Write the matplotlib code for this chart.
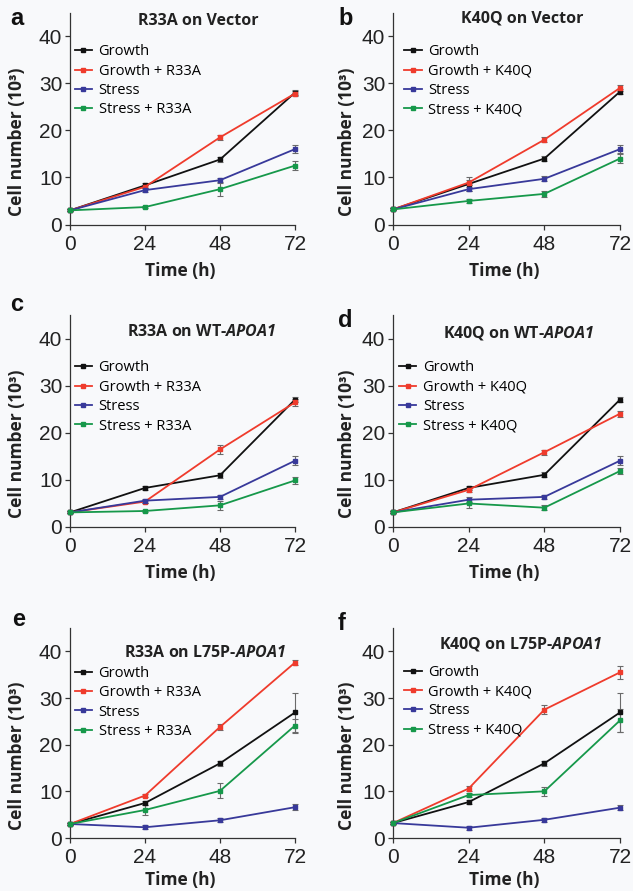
"""
Cell growth curves, six panels (a-f)
"""
import matplotlib
matplotlib.use("Agg")
import matplotlib.pyplot as plt

# italic gene name (digits included) inside the panel titles
plt.rcParams['mathtext.fontset'] = 'custom'
plt.rcParams['mathtext.it'] = 'Open Sans:italic:bold'
plt.rcParams['mathtext.rm'] = 'Open Sans:italic:bold'

# x values shared by every panel
hours = [0, 24, 48, 72]

letters = ["a", "b", "c", "d", "e", "f"]
mutants = ["R33A", "K40Q", "R33A", "K40Q", "R33A", "K40Q"]
titles = ["R33A on Vector", "K40Q on Vector",
          r"R33A on WT-$\mathit{APOA1}$", r"K40Q on WT-$\mathit{APOA1}$",
          r"R33A on L75P-$\mathit{APOA1}$", r"K40Q on L75P-$\mathit{APOA1}$"]

# means (10^3 cells): growth, growth + mutant, stress, stress + mutant
a_mean = [[3.0, 8.3, 13.8, 28.0], [3.0, 8.0, 18.5, 27.8],
          [3.0, 7.3, 9.4, 16.0], [3.0, 3.7, 7.5, 12.5]]
b_mean = [[3.2, 8.6, 14.0, 28.2], [3.2, 8.9, 18.0, 29.0],
          [3.2, 7.5, 9.7, 16.0], [3.2, 5.0, 6.5, 14.0]]
c_mean = [[3.0, 8.2, 10.9, 27.0], [3.0, 5.3, 16.4, 26.4],
          [3.0, 5.5, 6.3, 14.0], [3.0, 3.3, 4.5, 9.8]]
d_mean = [[3.0, 8.2, 11.0, 27.0], [3.0, 7.8, 15.8, 24.0],
          [3.0, 5.7, 6.3, 14.0], [3.0, 4.9, 4.0, 11.8]]
e_mean = [[3.0, 7.5, 16.0, 26.9], [3.0, 9.1, 23.8, 37.6],
          [3.0, 2.3, 3.8, 6.6], [3.0, 6.0, 10.1, 24.1]]
f_mean = [[3.2, 7.7, 16.0, 26.9], [3.2, 10.6, 27.5, 35.5],
          [3.2, 2.2, 3.9, 6.5], [3.2, 9.2, 10.0, 25.2]]

# error bars (same order)
a_err = [[0.2, 0.5, 0.6, 0.6], [0.2, 0.3, 0.6, 0.6],
         [0.2, 0.4, 0.5, 0.8], [0.2, 0.3, 1.5, 0.9]]
b_err = [[0.2, 1.5, 0.6, 0.6], [0.2, 0.5, 0.5, 0.6],
         [0.2, 0.4, 0.5, 0.8], [0.2, 0.4, 0.6, 1.0]]
c_err = [[0.2, 0.4, 0.5, 0.6], [0.2, 0.4, 1.0, 0.7],
         [0.2, 0.4, 0.4, 0.9], [0.2, 0.3, 1.0, 0.7]]
d_err = [[0.2, 0.5, 0.5, 0.6], [0.2, 0.4, 0.5, 0.6],
         [0.2, 0.5, 0.5, 0.9], [0.2, 1.0, 0.5, 0.6]]
e_err = [[0.2, 0.5, 0.6, 4.2], [0.2, 0.4, 0.6, 0.5],
         [0.2, 0.4, 0.4, 0.7], [0.2, 1.0, 1.6, 1.5]]
f_err = [[0.2, 0.5, 0.5, 4.2], [0.2, 0.6, 0.9, 1.4],
         [0.2, 0.4, 0.4, 0.6], [0.2, 0.5, 1.0, 2.5]]

means = [a_mean, b_mean, c_mean, d_mean, e_mean, f_mean]
errors = [a_err, b_err, c_err, d_err, e_err, f_err]

colors = ["#111111", "#ef3b2c", "#38399a", "#16984a"]
bg = "#f8f9fb"

W, H = 633, 891
fig = plt.figure(figsize=(W / 100, H / 100), dpi=100, facecolor=bg)

# axes boxes in pixels: left, top, right, bottom
col_x = [(70, 295), (393, 620)]
row_y = [(12.5, 224.5), (315, 526.5), (628, 838)]
xlabel_y = [-0.22, -0.218, -0.2]

# per-panel placement tweaks (axes fractions)
title_pos = [(0.57, 0.96), (0.57, 0.974), (0.585, 0.92),
             (0.555, 0.915), (0.6, 0.88), (0.565, 0.924)]
legend_pos = [(0.02, 0.85), (0.05, 0.85), (0.02, 0.785),
              (0.026, 0.785), (0.02, 0.82), (0.05, 0.825)]
letter_pos = [(10, 25), (338, 25), (10, 311), (338, 327), (12, 626), (338, 630)]

for i in range(6):
    r, c = i // 2, i % 2
    x0, x1 = col_x[c]
    y0, y1 = row_y[r]
    ax = fig.add_axes([x0 / W, 1 - y1 / H, (x1 - x0) / W, (y1 - y0) / H])
    ax.set_facecolor(bg)

    labels = ["Growth", "Growth + " + mutants[i], "Stress",
              "Stress + " + mutants[i]]
    handles = []
    for k in range(4):
        ax.errorbar(hours, means[i][k], yerr=errors[i][k], fmt='none',
                    ecolor="#6a6a6a", elinewidth=0.8, capsize=2,
                    capthick=0.8, zorder=2, clip_on=False)
        line, = ax.plot(hours, means[i][k], color=colors[k], lw=1.3,
                        marker='s', ms=3.5, label=labels[k], zorder=3,
                        clip_on=False)
        handles.append(line)

    ax.set_xlim(0, 72)
    ax.set_ylim(0, 45)
    ax.set_xticks(hours)
    ax.set_yticks([0, 10, 20, 30, 40])
    for s in ["top", "right"]:
        ax.spines[s].set_visible(False)
    for s in ["left", "bottom"]:
        ax.spines[s].set_color("#333333")
        ax.spines[s].set_linewidth(0.9)
    ax.tick_params(direction='out', length=3.5, width=0.9, color="#333333",
                   labelsize=15, labelcolor="#222222")
    ax.tick_params(axis='x', pad=4)
    ax.tick_params(axis='y', pad=2)
    for t in ax.get_xticklabels() + ax.get_yticklabels():
        t.set_family("Liberation Sans")

    ax.set_xlabel("Time (h)", fontsize=12.5, fontweight='bold',
                  family="Open Sans", color="#222222")
    ax.set_ylabel("Cell number (10³)", fontsize=12.5, fontweight='bold',
                  family="Open Sans", color="#222222")
    ax.xaxis.set_label_coords(0.49, xlabel_y[r])
    ax.xaxis.label.set_va('center')
    ax.yaxis.set_label_coords(-0.236 if c == 0 else -0.203, 0.39)
    ax.yaxis.label.set_va('center')

    ax.text(title_pos[i][0], title_pos[i][1], titles[i], transform=ax.transAxes,
            ha='center', va='center', fontsize=11.5, fontweight='bold',
            family="Open Sans", color="#222222")

    ax.legend(handles=handles, loc='upper left', bbox_to_anchor=legend_pos[i],
              frameon=False, borderpad=0, borderaxespad=0, handlelength=1.2,
              handletextpad=0.45, labelspacing=0.3,
              prop={'family': 'Open Sans', 'size': 10.5})

    fig.text(letter_pos[i][0] / W, 1 - letter_pos[i][1] / H, letters[i],
             fontsize=17, fontweight='bold', family="Liberation Sans",
             va='baseline', ha='left', color="#111111")

fig.savefig("out.png", dpi=100, facecolor=bg)
